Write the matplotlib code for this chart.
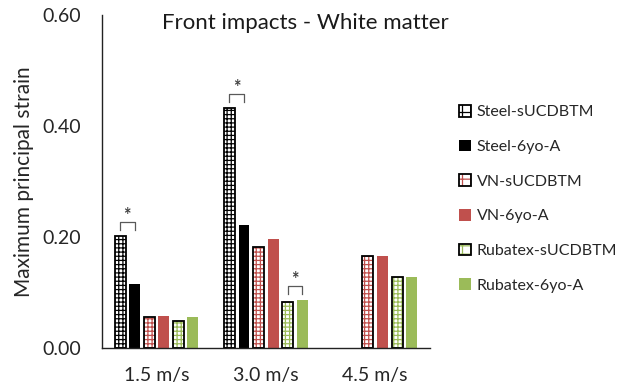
import matplotlib.pyplot as plt
from matplotlib.legend_handler import HandlerTuple
import numpy as np

plt.rcParams['font.family'] = ['Lato', 'DejaVu Sans']
plt.rcParams['hatch.linewidth'] = 0.9

speeds = ['1.5 m/s', '3.0 m/s', '4.5 m/s']
series = ['Steel-sUCDBTM', 'Steel-6yo-A', 'VN-sUCDBTM', 'VN-6yo-A', 'Rubatex-sUCDBTM', 'Rubatex-6yo-A']
steel_s = [0.202, 0.432, np.nan]
steel_6 = [0.115, 0.222, np.nan]
vn_s = [0.055, 0.182, 0.165]
vn_6 = [0.057, 0.197, 0.166]
rub_s = [0.049, 0.082, 0.128]
rub_6 = [0.056, 0.087, 0.128]
values = [steel_s, steel_6, vn_s, vn_6, rub_s, rub_6]

# (series a, series b, speed index) for significance brackets
sig_pairs = [(0, 1, 0), (0, 1, 1), (4, 5, 1)]

red = '#C0504D'
green = '#9BBB59'
colors = ['white', 'black', 'white', red, 'white', green]
hatchcol = ['black', None, red, None, green, None]

fig = plt.figure(figsize=(6.36, 3.9), dpi=100)
ax = fig.add_axes([0.16, 0.1077, 0.516, 0.8538])

x = np.arange(len(speeds))
pitch = 0.133
width = 0.10
handles = []
for i, vals in enumerate(values):
    xs = x + (i - 2.5) * pitch
    v = np.array(vals, dtype=float)
    m = ~np.isnan(v)
    if hatchcol[i] is not None:
        ax.bar(xs[m], v[m], width, color='white', edgecolor=hatchcol[i], hatch='++++', linewidth=0)
        ax.bar(xs[m], v[m], width, fill=False, edgecolor='black', linewidth=1.3)
        h = plt.Rectangle((0, 0), 1, 1, facecolor='white', edgecolor=hatchcol[i], hatch='++', linewidth=0)
        h2 = plt.Rectangle((0, 0), 1, 1, fill=False, edgecolor='black', linewidth=1.3)
        handles.append((h, h2))
    else:
        b = ax.bar(xs[m], v[m], width, color=colors[i], linewidth=0)
        handles.append(b)

for a, bb, g in sig_pairs:
    x1 = g + (a - 2.5) * pitch
    x2 = g + (bb - 2.5) * pitch
    top = max(values[a][g], values[bb][g]) + 0.025
    ax.plot([x1, x1, x2, x2], [top - 0.014, top, top, top - 0.014], color='#595959', lw=0.9)
    ax.text((x1 + x2) / 2, top - 0.003, '*', ha='center', va='bottom', fontsize=13,
            fontweight='bold', color='#404040')

ax.set_xlim(-0.5, 2.5)
ax.set_ylim(0, 0.6)
ax.set_yticks([0, 0.2, 0.4, 0.6])
ax.set_yticklabels(['0.00', '0.20', '0.40', '0.60'])
ax.set_xticks(x)
ax.set_xticklabels(speeds)
ax.tick_params(length=0, labelsize=14, colors='#262626')
ax.tick_params(axis='y', pad=15)
ax.tick_params(axis='x', pad=14)
for s in ['top', 'right']:
    ax.spines[s].set_visible(False)
for s in ['left', 'bottom']:
    ax.spines[s].set_color('#222222')
    ax.spines[s].set_linewidth(1.0)

ax.set_ylabel('Maximum principal strain', fontsize=15, color='#262626', labelpad=6)
fig.text(0.255, 0.94, 'Front impacts - White matter', ha='left', va='center', fontsize=16, color='#1a1a1a')

fig.legend(handles, series, loc='center left', bbox_to_anchor=(0.722, 0.49), frameon=False,
           borderpad=0, borderaxespad=0,
           fontsize=11.5, handlelength=0.75, handleheight=0.75, handletextpad=0.35, labelspacing=1.27,
           handler_map={tuple: HandlerTuple(ndivide=1)}, labelcolor='#262626')

fig.savefig('out.png', dpi=100)
